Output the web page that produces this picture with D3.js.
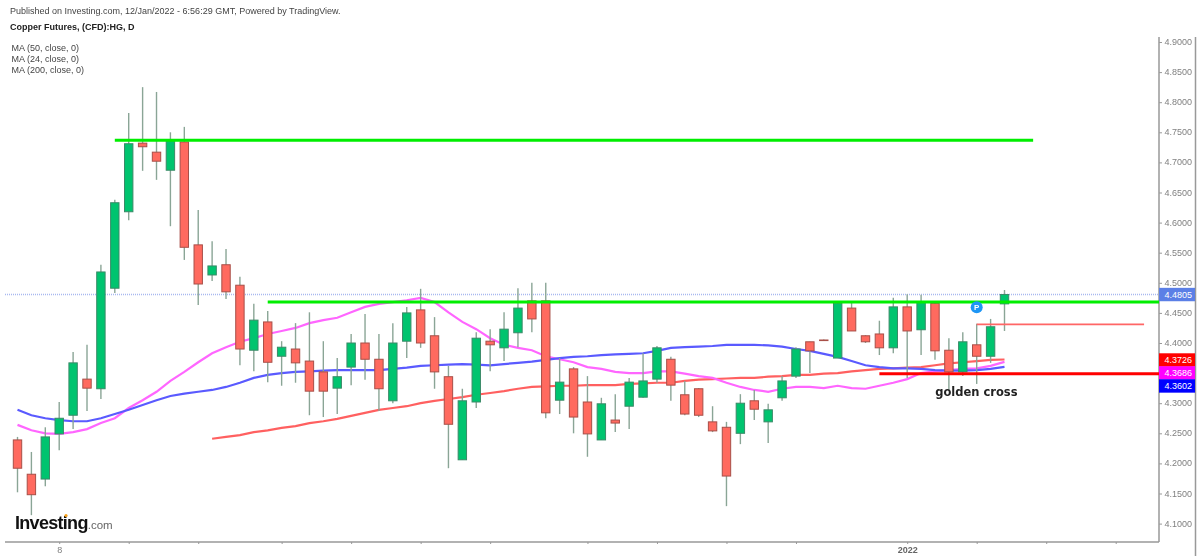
<!DOCTYPE html>
<meta charset="utf-8">
<style>
html, body {
  margin: 0;
  background: #fff;
}
svg {
  display: block;
  filter: blur(0.5px);
}
text {
  font-family: "Liberation Sans", Arial, sans-serif;
}
.head {
  font-size: 9px;
  fill: #444;
}
.tick text {
  font-size: 9px;
  fill: #808080;
}
.domain, .tick line {
  stroke: #999;
}
.domain {
  stroke-width: 1.5px;
}
.wick {
  stroke: #8aa596;
  stroke-width: 1.4px;
}
.body {
  stroke-width: 1px;
}
.ma {
  fill: none;
  stroke-width: 2.2px;
}
</style>
<body>
<script src="https://d3js.org/d3.v7.min.js"></script>
<script>

var width = 1200,
    height = 560;

// daily candles, bar 0 is the first bar on the left
var opens = [4.239,4.182,4.174,4.249,4.280,4.340,4.324,4.491,4.618,4.732,4.717,4.687,4.734,4.563,4.513,4.530,4.496,4.388,4.435,4.378,
  4.390,4.370,4.352,4.325,4.360,4.400,4.373,4.304,4.403,4.455,4.412,4.344,4.206,4.302,4.403,4.392,4.417,4.470,4.470,4.305,
  4.357,4.302,4.239,4.272,4.295,4.310,4.340,4.373,4.314,4.324,4.269,4.260,4.250,4.304,4.269,4.309,4.345,4.402,4.405,4.375,
  4.458,4.412,4.415,4.392,4.460,4.422,4.466,4.388,4.352,4.397,4.378,4.465];
var highs = [4.244,4.219,4.260,4.302,4.385,4.397,4.530,4.638,4.782,4.825,4.817,4.750,4.759,4.621,4.569,4.556,4.510,4.465,4.453,4.403,
  4.433,4.451,4.403,4.375,4.415,4.448,4.415,4.433,4.460,4.490,4.443,4.362,4.324,4.418,4.423,4.451,4.491,4.500,4.500,4.375,
  4.360,4.345,4.309,4.315,4.342,4.383,4.395,4.377,4.337,4.325,4.295,4.269,4.315,4.322,4.299,4.345,4.393,4.402,4.406,4.466,
  4.468,4.413,4.437,4.475,4.481,4.480,4.468,4.408,4.418,4.432,4.440,4.488];
var lows = [4.152,4.114,4.162,4.222,4.257,4.287,4.307,4.483,4.604,4.686,4.671,4.594,4.538,4.463,4.503,4.473,4.363,4.353,4.335,4.329,
  4.334,4.280,4.277,4.282,4.330,4.339,4.287,4.300,4.375,4.392,4.324,4.192,4.206,4.292,4.353,4.370,4.393,4.418,4.275,4.282,
  4.250,4.211,4.239,4.252,4.257,4.309,4.334,4.304,4.280,4.277,4.252,4.129,4.232,4.272,4.234,4.304,4.342,4.350,4.404,4.375,
  4.420,4.400,4.380,4.383,4.342,4.380,4.372,4.322,4.345,4.332,4.367,4.420];
var closes = [4.192,4.148,4.244,4.275,4.367,4.325,4.518,4.633,4.731,4.726,4.702,4.736,4.559,4.498,4.528,4.485,4.390,4.438,4.368,4.393,
  4.367,4.320,4.320,4.344,4.400,4.373,4.324,4.400,4.450,4.400,4.352,4.265,4.304,4.408,4.397,4.423,4.458,4.440,4.284,4.335,
  4.277,4.249,4.299,4.267,4.335,4.337,4.392,4.330,4.282,4.280,4.254,4.179,4.300,4.290,4.289,4.337,4.390,4.387,4.404,4.466,
  4.420,4.402,4.392,4.460,4.420,4.468,4.387,4.352,4.402,4.378,4.427,4.4805];

// moving averages, one value per bar
var ma50 = [4.289,4.280,4.275,4.272,4.270,4.270,4.275,4.282,4.289,4.297,4.305,4.312,4.316,4.319,4.322,4.327,4.334,4.342,4.347,4.350,
  4.352,4.353,4.354,4.355,4.355,4.355,4.355,4.357,4.359,4.362,4.363,4.364,4.365,4.364,4.363,4.365,4.367,4.369,4.372,4.375,
  4.377,4.378,4.380,4.381,4.382,4.383,4.387,4.392,4.393,4.394,4.395,4.397,4.397,4.397,4.396,4.394,4.390,4.387,4.382,4.377,
  4.370,4.363,4.360,4.358,4.358,4.357,4.355,4.354,4.354,4.355,4.357,4.3602];
var ma24 = [4.264,4.255,4.250,4.249,4.252,4.257,4.267,4.275,4.292,4.305,4.319,4.337,4.352,4.368,4.383,4.393,4.402,4.408,4.415,4.420,
  4.425,4.433,4.438,4.442,4.451,4.460,4.465,4.468,4.471,4.475,4.468,4.451,4.435,4.423,4.408,4.397,4.392,4.388,4.378,4.373,
  4.368,4.360,4.357,4.352,4.350,4.350,4.353,4.353,4.349,4.345,4.342,4.334,4.327,4.322,4.319,4.324,4.327,4.327,4.325,4.329,
  4.325,4.324,4.329,4.334,4.340,4.350,4.353,4.355,4.357,4.358,4.362,4.3686];
var ma200 = [null,null,null,null,null,null,null,null,null,null,null,null,null,null,4.241,4.244,4.247,4.252,4.255,4.259,
  4.262,4.267,4.270,4.274,4.279,4.284,4.289,4.292,4.295,4.300,4.304,4.307,4.310,4.314,4.317,4.320,4.324,4.327,4.328,4.329,
  4.329,4.330,4.330,4.330,4.332,4.333,4.334,4.334,4.337,4.339,4.340,4.341,4.342,4.342,4.344,4.345,4.347,4.347,4.349,4.350,
  4.353,4.355,4.357,4.358,4.359,4.360,4.363,4.366,4.368,4.370,4.372,4.3726];

var priceTicks = [4.1,4.15,4.2,4.25,4.3,4.35,4.4,4.45,4.5,4.55,4.6,4.65,4.7,4.75,4.8,4.85,4.9];
var timeTicks = [3,8,13,19,24,29,34,41,46,51,56,64,69,74,79];
var timeLabels = {3: "8", 64: "2022"};

var legendLabels = ["MA (50, close, 0)", "MA (24, close, 0)", "MA (200, close, 0)"];

// drawn trend lines: first bar, last bar (null = up to the axis), price
var drawnStart = [7, 18, 69, 62];
var drawnEnd = [73.06, null, 81.04, null];
var drawnPrice = [4.737, 4.468, 4.431, 4.349];
var drawnColor = ["#00ee00", "#00ee00", "#ff6666", "#ff0000"];
var drawnWidth = [3, 3, 1.6, 3];

var lastPrice = 4.4805;

var plotLeft = 5, plotRight = 1159, plotBottom = 542, plotTop = 37;

var x = d3.scaleLinear().domain([0, 71]).range([17.5, 1004.5]);
var y = d3.scaleLinear().domain([4.1, 4.9]).range([523.6, 42]);

var svg = d3.select("body").append("svg")
    .attr("width", width)
    .attr("height", height);

svg.append("text").attr("class", "head").attr("x", 10).attr("y", 14)
    .text("Published on Investing.com, 12/Jan/2022 - 6:56:29 GMT, Powered by TradingView.");
svg.append("text").attr("class", "head").attr("x", 10).attr("y", 29.5)
    .style("font-weight", "bold").style("fill", "#222")
    .text("Copper Futures, (CFD):HG, D");
svg.selectAll(".legend")
    .data(legendLabels)
  .enter().append("text")
    .attr("class", "head legend")
    .attr("x", 11.5)
    .attr("y", function(d, i) { return 51 + i * 11; })
    .text(function(d) { return d; });

// axes
var xAxis = d3.axisBottom(x)
    .tickValues(timeTicks)
    .tickSize(2)
    .tickPadding(3)
    .tickFormat(function(d) { return timeLabels[d] || ""; });
var gx = svg.append("g")
    .attr("transform", "translate(0," + plotBottom + ")")
    .call(xAxis);
gx.select(".domain").attr("d", "M" + plotLeft + ",0H" + plotRight);
gx.selectAll("text").style("font-weight", function(d) { return d == 64 ? "bold" : null; })
    .style("fill", function(d) { return d == 64 ? "#666" : null; });

var yAxis = d3.axisRight(y)
    .tickValues(priceTicks)
    .tickSize(3)
    .tickPadding(2.5)
    .tickFormat(d3.format(".4f"));
var gy = svg.append("g")
    .attr("transform", "translate(" + plotRight + ",0)")
    .call(yAxis);
gy.select(".domain").attr("d", "M0," + plotTop + "V" + plotBottom);
gy.selectAll("text").attr("dy", "0.28em");

svg.append("line")
    .attr("x1", 1195.5).attr("x2", 1195.5)
    .attr("y1", plotTop).attr("y2", 556)
    .attr("stroke", "#999").attr("stroke-width", 1.5);

// last price line
svg.append("line")
    .attr("x1", plotLeft).attr("x2", plotRight)
    .attr("y1", y(lastPrice)).attr("y2", y(lastPrice))
    .attr("stroke", "#a9b9f0")
    .attr("stroke-width", 1.5)
    .attr("stroke-dasharray", "1,1");

// moving averages sit under the candles
var line = d3.line()
    .defined(function(d) { return d != null; })
    .x(function(d, i) { return x(i); })
    .y(function(d) { return y(d); });

svg.append("path").datum(ma200).attr("class", "ma").attr("stroke", "#ff6060").attr("d", line);
svg.append("path").datum(ma24).attr("class", "ma").attr("stroke", "#ff66ff").attr("d", line);
svg.append("path").datum(ma50).attr("class", "ma").attr("stroke", "#5a5aff").attr("d", line);

// candles
var bars = svg.selectAll(".bar")
    .data(d3.range(opens.length))
  .enter().append("g")
    .attr("class", "bar");

bars.append("line")
    .attr("class", "wick")
    .attr("x1", function(i) { return x(i); })
    .attr("x2", function(i) { return x(i); })
    .attr("y1", function(i) { return y(highs[i]); })
    .attr("y2", function(i) { return y(lows[i]); });

bars.append("rect")
    .attr("class", "body")
    .attr("x", function(i) { return x(i) - 4.2; })
    .attr("width", 8.4)
    .attr("y", function(i) { return y(Math.max(opens[i], closes[i])); })
    .attr("height", function(i) { return Math.max(0.5, Math.abs(y(opens[i]) - y(closes[i]))); })
    .attr("fill", function(i) { return closes[i] >= opens[i] ? "#00c46f" : "#ff6a5f"; })
    .attr("stroke", function(i) { return closes[i] >= opens[i] ? "#3a8a68" : "#a84f48"; });

// trend lines drawn over the chart
svg.selectAll(".drawn")
    .data(d3.range(drawnStart.length))
  .enter().append("line")
    .attr("class", "drawn")
    .attr("x1", function(i) { return x(drawnStart[i]); })
    .attr("x2", function(i) { return drawnEnd[i] == null ? plotRight : x(drawnEnd[i]); })
    .attr("y1", function(i) { return y(drawnPrice[i]); })
    .attr("y2", function(i) { return y(drawnPrice[i]); })
    .attr("stroke", function(i) { return drawnColor[i]; })
    .attr("stroke-width", function(i) { return drawnWidth[i]; });

// price labels on the axis, pushed apart like the platform does
var tagValues = [4.4805, 4.3726, 4.3686, 4.3602];
var tagColors = ["#5b7fe6", "#ff0000", "#ff00ff", "#0000ff"];
var tagShift = [0, 0.5, 11, 19];

var tags = svg.selectAll(".tag")
    .data(d3.range(tagValues.length))
  .enter().append("g")
    .attr("class", "tag")
    .attr("transform", function(i) { return "translate(" + plotRight + "," + (y(tagValues[i]) + tagShift[i]) + ")"; });
tags.append("rect")
    .attr("x", 0).attr("y", -6.7).attr("width", 36).attr("height", 13.4)
    .attr("fill", function(i) { return tagColors[i]; });
tags.append("text")
    .attr("x", 5.5).attr("dy", "0.35em")
    .attr("fill", "#fff").style("font-size", "9px")
    .text(function(i) { return d3.format(".4f")(tagValues[i]); });

// annotations
var pin = svg.append("g").attr("transform", "translate(" + x(69) + "," + y(4.4595) + ")");
pin.append("circle").attr("r", 6).attr("fill", "#1e96f5");
pin.append("text").attr("text-anchor", "middle").attr("dy", "0.36em")
    .attr("fill", "#fff").style("font-size", "8px").style("font-weight", "bold").text("P");

svg.append("text")
    .attr("x", x(69) - 41.5).attr("y", 395.5)
    .attr("fill", "#222")
    .style("font-family", "'DejaVu Sans'")
    .style("font-size", "11.5px")
    .style("font-weight", "bold")
    .text("golden cross");

// logo
var logo = svg.append("text").attr("x", 15).attr("y", 528.5);
logo.append("tspan").attr("fill", "#111")
    .style("font-size", "18px").style("font-weight", "bold").style("letter-spacing", "-0.7px")
    .text("Investing");
logo.append("tspan").attr("fill", "#666")
    .style("font-size", "11.5px")
    .text(".com");
svg.append("circle").attr("cx", 66).attr("cy", 515.5).attr("r", 1.6).attr("fill", "#f7a11a");

</script>
